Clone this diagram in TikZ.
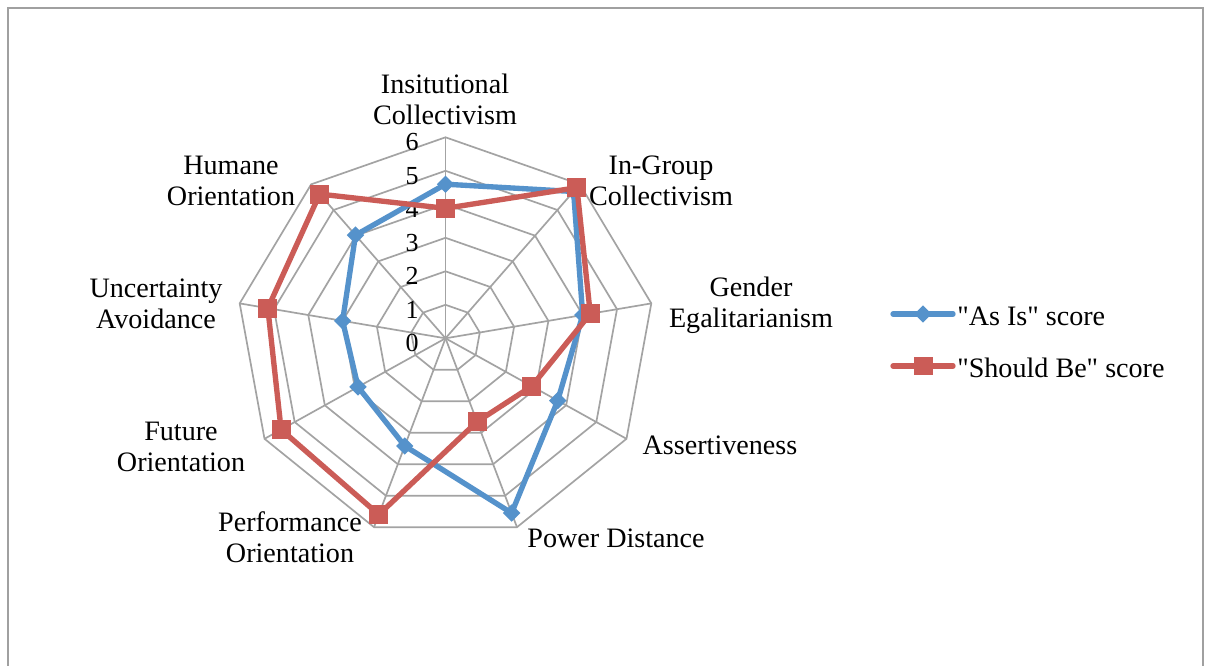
\documentclass[tikz,border=0pt]{standalone}
\usepackage{fontspec}
\setmainfont{Liberation Serif}[Ligatures=TeXOff]
\usetikzlibrary{shapes.geometric}
\definecolor{gridgray}{HTML}{A3A3A3}
\definecolor{framegray}{HTML}{A0A0A0}
\definecolor{asblue}{HTML}{5592CB}
\definecolor{shred}{HTML}{CB5C57}
\def\cx{445.5}
\def\cy{338.3}
\def\ux{34.83}
\def\uy{33.5}
\tikzset{
  gridline/.style={draw=gridgray, line width=1.2pt},
  blueline/.style={draw=asblue, line width=3.8pt, line join=round, line cap=round},
  redline/.style={draw=shred, line width=3.8pt, line join=round, line cap=round},
  bluemark/.style={shape=diamond, fill=asblue, inner sep=0pt, minimum width=12.5pt, minimum height=12.5pt},
  redmark/.style={shape=rectangle, fill=shred, inner sep=0pt, minimum width=13.5pt, minimum height=13.5pt},
  axlabel/.style={font=\fontsize{20pt}{22pt}\selectfont, align=center, inner sep=0pt, text=black},
  numlabel/.style={font=\fontsize{18.5pt}{20pt}\selectfont, anchor=east, inner sep=0pt, text=black},
  legtext/.style={font=\fontsize{20pt}{22pt}\selectfont, anchor=west, inner sep=0pt, text=black}
}
\begin{document}
\begin{tikzpicture}[x=0.025cm,y=-0.025cm]
\useasboundingbox (0,0) rectangle (1209,665);
\fill[white] (0,0) rectangle (1209,665);
% frame
\coordinate (fbl) at (8,668);
\coordinate (ftl) at (8,8);
\coordinate (ftr) at (1203,8);
\coordinate (fbr) at (1203,668);
\draw[framegray, line width=1.5pt] (fbl) -- (ftl) -- (ftr) -- (fbr);
% grid rings
\foreach \k in {1,...,6} {
  \draw[gridline] plot[samples at={0,40,...,320}] ({\cx+\k*\ux*sin(\x)},{\cy-\k*\uy*cos(\x)}) -- cycle;
}
\coordinate (ctr) at (\cx,\cy);
\foreach \i in {0,...,8} {
  \coordinate (ax\i) at ({\cx+6*\ux*sin(40*\i)},{\cy-6*\uy*cos(40*\i)});
  \draw[gridline] (ctr) -- (ax\i);
}
% numbers
\foreach \k in {0,...,6} {
  \node[numlabel] (n\k) at (419,{\cy-\k*\uy+5}) {\k};
}
% data coordinates
\foreach \v [count=\i from 0] in {4.6,5.72,4.0,3.72,5.55,3.42,2.9,3.0,4.02} {
  \coordinate (b\i) at ({\cx+\v*\ux*sin(40*\i)},{\cy-\v*\uy*cos(40*\i)});
}
\foreach \v [count=\i from 0] in {3.88,5.87,4.22,2.86,2.65,5.6,5.45,5.18,5.62} {
  \coordinate (r\i) at ({\cx+\v*\ux*sin(40*\i)},{\cy-\v*\uy*cos(40*\i)});
}
\draw[blueline] (b0) -- (b1) -- (b2) -- (b3) -- (b4) -- (b5) -- (b6) -- (b7) -- (b8) -- cycle;
\foreach \i in {0,...,8} { \node[bluemark] (bm\i) at (b\i) {}; }
\draw[redline] (r0) -- (r1) -- (r2) -- (r3) -- (r4) -- (r5) -- (r6) -- (r7) -- (r8) -- cycle;
\foreach \i in {0,...,8} { \node[redmark] (rm\i) at (r\i) {}; }
% axis labels
\node[axlabel] (l0) at (445,99) {Insitutional\\Collectivism};
\node[axlabel] (l1) at (661,181) {In-Group\\Collectivism};
\node[axlabel] (l2) at (751,305) {Gender\\Egalitarianism};
\node[axlabel] (l3) at (720,445) {Assertiveness};
\node[axlabel] (l4) at (616,538) {Power Distance};
\node[axlabel] (l5) at (290,537) {Performance\\Orientation};
\node[axlabel] (l6) at (181,447) {Future\\Orientation};
\node[axlabel] (l7) at (156,304) {Uncertainty\\Avoidance};
\node[axlabel] (l8) at (231,181) {Humane\\Orientation};
% legend
\coordinate (lb1) at (893,314);
\coordinate (lb2) at (953,314);
\coordinate (lr1) at (893,366);
\coordinate (lr2) at (953,366);
\draw[blueline] (lb1) -- (lb2);
\node[bluemark] (lbm) at (923,314) {};
\draw[redline] (lr1) -- (lr2);
\node[redmark] (lrm) at (923,366) {};
\node[legtext] (lbt) at (957,316) {"As Is" score};
\node[legtext] (lrt) at (957,368) {"Should Be" score};
\end{tikzpicture}
\end{document}
